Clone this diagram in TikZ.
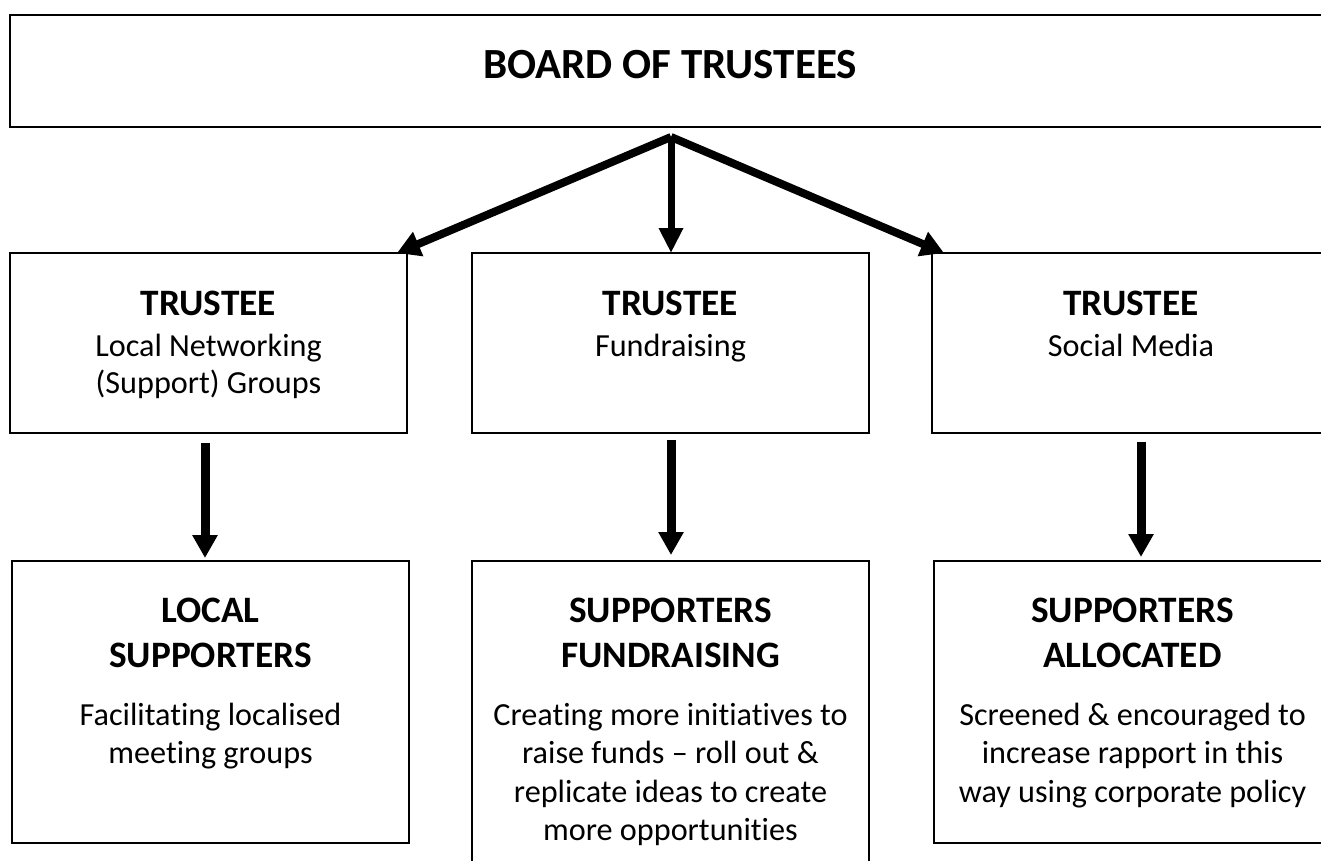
\documentclass[tikz,border=0pt]{standalone}
\usepackage{fontspec}
\setmainfont{Carlito}[Ligatures=NoCommon]
\usetikzlibrary{arrows.meta}
\begin{document}
\begin{tikzpicture}[x=1pt,y=-1pt,
  box/.style={draw, line width=2pt, inner sep=0pt, outer sep=0pt, anchor=north west},
  bighd/.style={font=\fontsize{43}{51}\selectfont\bfseries, anchor=base, inner sep=0pt},
  hd/.style={font=\fontsize{37.3}{45}\selectfont\bfseries, anchor=base, inner sep=0pt},
  bd/.style={font=\fontsize{32.2}{38}\selectfont, anchor=base, inner sep=0pt},
  varrow/.style={line width=9pt, -{Triangle[length=23pt,width=24pt]}},
  darrow/.style={line width=8pt, -{Triangle[length=23pt,width=25pt]}},
  marrow/.style={line width=7pt, -{Triangle[length=25pt,width=23pt]}}]
\useasboundingbox (0,0) rectangle (1321,861);
\clip (0,0) rectangle (1321,861);

% boxes
\node[box, minimum width=1330pt, minimum height=112pt] (board) at (10,15) {};
\node[box, minimum width=397pt, minimum height=180pt] (lt) at (10,253) {};
\node[box, minimum width=397pt, minimum height=180pt] (mt) at (472,253) {};
\node[box, minimum width=398pt, minimum height=180pt] (rt) at (932,253) {};
\node[box, minimum width=397pt, minimum height=282pt] (lb) at (12,561) {};
\node[box, minimum width=397pt, minimum height=340pt] (mb) at (472,561) {};
\node[box, minimum width=397pt, minimum height=282pt] (rb) at (934,561) {};

% texts
\node[bighd] (boardtxt) at (670,79) {BOARD OF TRUSTEES};

\node[hd] (lth) at (208.5,315) {TRUSTEE};
\node[bd] (lt1) at (208.5,356) {Local Networking};
\node[bd] (lt2) at (208.5,393) {(Support) Groups};

\node[hd] (mth) at (670.5,315) {TRUSTEE};
\node[bd] (mt1) at (670.5,356) {Fundraising};

\node[hd] (rth) at (1131,315) {TRUSTEE};
\node[bd] (rt1) at (1131,356) {Social Media};

\node[hd] (lbh1) at (210.5,622) {LOCAL};
\node[hd] (lbh2) at (210.5,667) {SUPPORTERS};
\node[bd] (lb1) at (210.5,725) {Facilitating localised};
\node[bd] (lb2) at (210.5,763.5) {meeting groups};

\node[hd] (mbh1) at (670.5,622) {SUPPORTERS};
\node[hd] (mbh2) at (670.5,667) {FUNDRAISING};
\node[bd] (mb1) at (670.5,725) {Creating more initiatives to};
\node[bd] (mb2) at (670.5,763.5) {raise funds – roll out \&};
\node[bd] (mb3) at (670.5,802) {replicate ideas to create};
\node[bd] (mb4) at (670.5,840.5) {more opportunities};

\node[hd] (rbh1) at (1132.5,622) {SUPPORTERS};
\node[hd] (rbh2) at (1132.5,667) {ALLOCATED};
\node[bd] (rb1) at (1132.5,725) {Screened \& encouraged to};
\node[bd] (rb2) at (1132.5,763.5) {increase rapport in this};
\node[bd] (rb3) at (1132.5,802) {way using corporate policy};

% connectors
\coordinate (apex) at (671,137);
\coordinate (xl) at (205,0);
\coordinate (xm) at (671,0);
\coordinate (xr) at (1141,0);
\draw[darrow] (apex) -- ([xshift=-10pt]lt.north east);
\draw[marrow] (apex) -- (xm |- mt.north);
\draw[darrow] (apex) -- ([xshift=12pt]rt.north west);

\draw[varrow, shorten >=3pt] (xl |- lt.south) ++(0,10) -- (xl |- lb.north);
\draw[varrow, shorten >=6pt] (xm |- mt.south) ++(0,7) -- (xm |- mb.north);
\draw[varrow, shorten >=4pt] (xr |- rt.south) ++(0,9) -- (xr |- rb.north);
\end{tikzpicture}
\end{document}
